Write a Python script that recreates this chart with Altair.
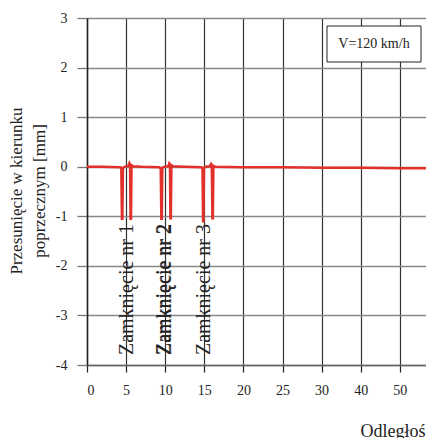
import altair as alt
import pandas as pd

# series: transverse displacement [mm] vs position along the axis
xs = [0, 2, 4.2, 4.38, 4.46, 4.53, 4.60, 4.8, 5.3, 5.42, 5.50, 5.56, 5.63, 5.70, 5.9, 7, 9.2, 9.42, 9.50, 9.57,
      9.64, 9.9, 10.4, 10.52, 10.60, 10.66, 10.73, 10.80, 11.0, 12.5, 14.6, 14.76, 14.84, 14.90, 14.97, 15.2,
      15.7, 15.86, 15.95, 16.03, 16.10, 16.17, 16.4, 20, 25, 30, 35, 40, 44.5]
ys = [0.0, 0.0, -0.01, -0.02, -1.05, -1.05, -0.03, 0.0, 0.02, 0.07, 0.04, -1.05, -1.05, 0.03, 0.01, 0.0, -0.01,
      -0.03, -1.05, -1.05, -0.02, 0.0, 0.01, 0.07, 0.05, -1.04, -1.04, 0.03, 0.01, 0.0, -0.01, -0.03, -1.12,
      -1.10, -0.02, 0.0, 0.01, 0.06, 0.04, -1.04, -1.04, 0.02, 0.0, -0.01, -0.01, -0.02, -0.02, -0.03, -0.03]

x_ticks = [0, 5, 10, 15, 20, 25, 30, 35, 40]
x_tick_labels = ["0", "5", "10", "15", "20", "25", "30", "40", "50"]
y_ticks = [-4, -3, -2, -1, 0, 1, 2, 3]

ann_x = [5.1, 9.85, 14.96]
ann_text = ["Zamknięcie nr 1", "Zamknięcie nr 2", "Zamknięcie nr 3"]

y_title_lines = ["Przesunięcie w kierunku", "poprzecznym [mm]"]

FONT = "Liberation Serif, Times New Roman, serif"
INK = "#222222"

df = pd.DataFrame({"x": xs, "y": ys})
ann = pd.DataFrame({"x": ann_x, "t": ann_text, "y": [-3.8] * 3})

label_expr = "[" + ",".join(f"'{l}'" for l in x_tick_labels) + "][indexof(" + str(x_ticks) + ", datum.value)]"

W = 339
xscale = alt.Scale(domain=[0, W / 7.82], nice=False, zero=False)
yscale = alt.Scale(domain=[-4, 3], nice=False)

base = alt.Chart(df)

line = base.mark_line(color="#e3302b", strokeWidth=2.4, clip=True).encode(
    x=alt.X("x:Q", scale=xscale,
            axis=alt.Axis(values=x_ticks, labelExpr=label_expr, title="Odległość [m]",
                          grid=True, gridColor="#333333", gridWidth=1.2,
                          domainColor="#666666", domainWidth=1.5, tickColor=INK, tickSize=7, tickWidth=1.2,
                          labelFont=FONT, labelFontSize=14, labelColor=INK, labelPadding=11,
                          titleFont=FONT, titleFontSize=18, titleFontWeight="normal", titleColor=INK,
                          titleAnchor="start", titleAlign="left", titleBaseline="alphabetic",
                          titleX=273, titleY=71)),
    y=alt.Y("y:Q", scale=yscale,
            axis=alt.Axis(values=y_ticks, labelExpr="'' + datum.value", title=None,
                          grid=True, gridColor="#888888", gridWidth=1.3,
                          domainColor=INK, domainWidth=1.5, tickColor="#777777", tickSize=10, tickWidth=1.3,
                          labelFont=FONT, labelFontSize=14, labelColor=INK, labelPadding=10)),
)

labels = alt.Chart(ann).mark_text(angle=270, align="left", baseline="middle", font=FONT,
                                  fontSize=20, color=INK).encode(
    x=alt.X("x:Q", scale=xscale), y=alt.Y("y:Q", scale=yscale), text="t:N")

labels2 = alt.Chart(ann.iloc[[1]]).mark_text(angle=270, align="left", baseline="middle", font=FONT,
                                             fontSize=20, color=INK, dy=1).encode(
    x=alt.X("x:Q", scale=xscale), y=alt.Y("y:Q", scale=yscale), text="t:N")

ytitle = alt.Chart(pd.DataFrame({"t": y_title_lines, "px": [-70, -47]})).mark_text(
    angle=270, align="center", baseline="middle", font=FONT, fontSize=17, color=INK).encode(
    x=alt.X("px:Q", scale=None), y=alt.value(173), text="t:N")

box = alt.Chart(pd.DataFrame({"k": [0]})).mark_rect(fill="white", stroke=INK, strokeWidth=1).encode(
    x=alt.value(240), x2=alt.value(334), y=alt.value(8), y2=alt.value(44))
box_text = alt.Chart(pd.DataFrame({"t": ["V=120 km/h"]})).mark_text(
    font=FONT, fontSize=14, color=INK, align="center", baseline="middle").encode(
    x=alt.value(287), y=alt.value(26), text="t:N")

chart = alt.layer(line, labels, labels2, ytitle, box, box_text).properties(
    width=W, height=347, autosize=alt.AutoSizeParams(type="none"),
    padding={"left": 79, "top": 10, "right": 0, "bottom": 73},
).configure_view(stroke=None).configure(background="white")

chart.save("out.html", embed_options={"renderer": "svg", "actions": False})
